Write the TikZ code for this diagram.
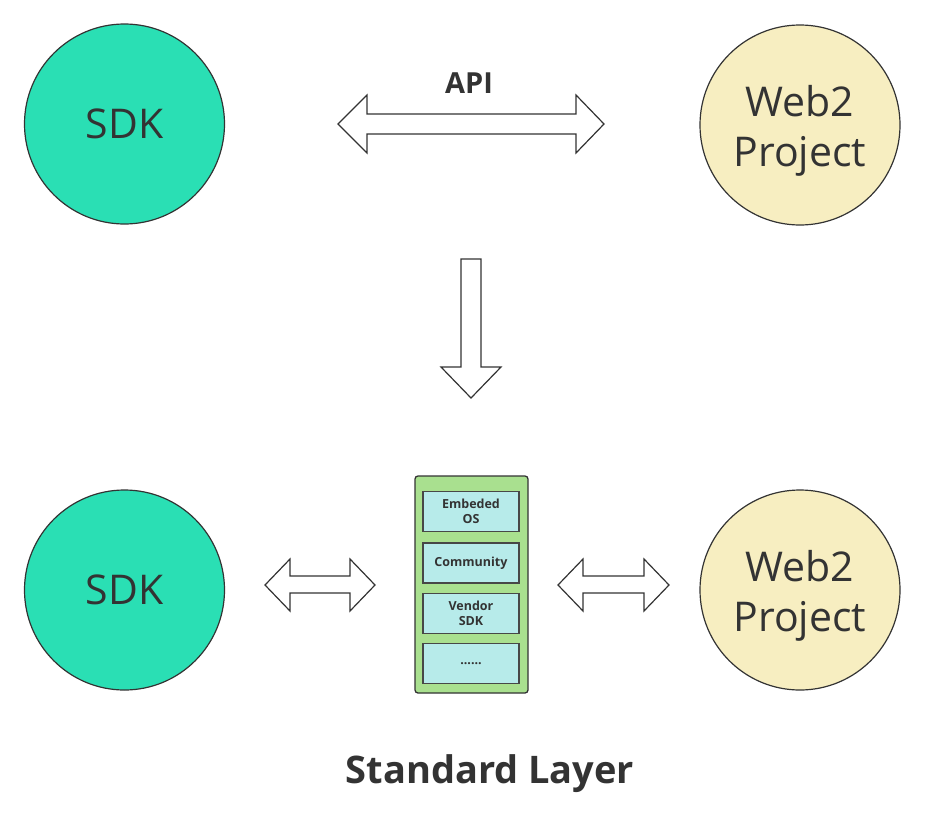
\documentclass[tikz,border=0pt]{standalone}
\usepackage{fontspec}
\setmainfont{Open Sans}
\definecolor{ink}{HTML}{333333}
\definecolor{teal}{HTML}{2ADFB4}
\definecolor{cream}{HTML}{F7EEC1}
\definecolor{stackgreen}{HTML}{A9E08F}
\definecolor{cellcyan}{HTML}{B7EBEA}
\begin{document}
\begin{tikzpicture}[x=1pt,y=-1pt,
  circ/.style={circle,draw=ink,line width=1.2pt,minimum size=200pt,inner sep=0pt,text=ink,
    font=\fontsize{41}{50}\selectfont,align=center},
  sdk/.style={circ,fill=teal},
  web/.style={circ,fill=cream},
  blockarrow/.style={draw=ink,line width=1.2pt,fill=white,line join=miter},
  stack/.style={draw=ink,line width=1.3pt,fill=stackgreen,rounded corners=3pt},
  cell/.style={draw=ink!90,line width=1.4pt,fill=cellcyan,minimum width=96pt,minimum height=40pt,
    inner sep=0pt,text=ink,font=\bfseries\fontsize{12.5}{15.5}\selectfont,align=center},
  lbl/.style={text=ink,font=\bfseries,inner sep=0pt}]
\useasboundingbox (0,0) rectangle (926,828);
% circles
\node[sdk] (sdk1) at (124.5,124) {SDK};
\node[web] (web1) at (800,125) {\rule{0pt}{0pt}\\[-8pt]Web2\\Project};
\node[sdk] (sdk2) at (124.5,590) {SDK};
\node[web] (web2) at (800,590) {\rule{0pt}{0pt}\\[-8pt]Web2\\Project};
% API double arrow
\draw[blockarrow] (338,124) -- (367,95) -- (367,114) -- (576,114) -- (576,95) -- (604,124)
  -- (576,153) -- (576,134) -- (367,134) -- (367,153) -- cycle;
\node[lbl,font=\bfseries\fontsize{29}{34}\selectfont] (api) at (469,83) {API};
% down arrow
\draw[blockarrow] (461,259) -- (481,259) -- (481,367) -- (501,367) -- (471,398)
  -- (441,367) -- (461,367) -- cycle;
% stack
\draw[stack] (415,476) rectangle (528,693);
\node[cell] (c1) at (471,511.5) {Embeded\\OS};
\node[cell] (c2) at (471,563) {Community};
\node[cell] (c3) at (471,613.5) {Vendor\\SDK};
\node[cell] (c4) at (471,663.5) {......};
% bottom double arrows
\draw[blockarrow] (265,585) -- (290,559) -- (290,576) -- (350,576) -- (350,559) -- (375,585)
  -- (350,611) -- (350,593) -- (290,593) -- (290,611) -- cycle;
\draw[blockarrow] (558,585) -- (583,559) -- (583,576) -- (644,576) -- (644,559) -- (669,585)
  -- (644,611) -- (644,593) -- (583,593) -- (583,611) -- cycle;
% caption
\node[lbl,font=\bfseries\fontsize{38}{44}\selectfont] (cap) at (490,774) {Standard Layer};
\end{tikzpicture}
\end{document}
